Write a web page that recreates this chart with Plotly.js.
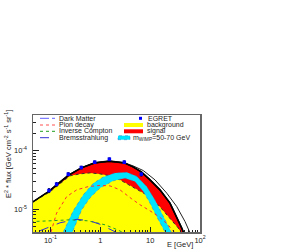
<!DOCTYPE html>
<html><head><meta charset="utf-8">
<script src="https://cdn.plot.ly/plotly-3.0.1.min.js"></script>
<style>html,body{margin:0;padding:0;background:#fff}#chart{width:288px;height:249px}</style>
</head><body><div id="chart"></div>
<script>
// ---- data (E in GeV, E^2*flux in GeV cm^-2 s^-1 sr^-1) ----
const egretE    = [0.0935, 0.133, 0.228, 0.416, 0.773, 1.52, 3.03, 6.64];
const egretFlux = [2.08e-5, 2.67e-5, 3.96e-5, 5.14e-5, 6.35e-5, 7.15e-5, 6.35e-5, 3.96e-5];
const egretErr  = [1.6e-6, 1.8e-6, 2.4e-6, 2.8e-6, 3.2e-6, 3.6e-6, 3.4e-6, 2.8e-6];

const totalE    = [0.04, 0.0447, 0.0935, 0.133, 0.228, 0.416, 0.773, 1.52, 3.03, 4.53, 6.64, 9.93, 15.7, 25.0, 34.1, 43.0, 47.8];
const totalFlux = [1.25e-5, 1.33e-5, 2.02e-5, 2.60e-5, 3.78e-5, 5.08e-5, 6.18e-5, 6.61e-5, 6.18e-5, 5.28e-5, 4.34e-5, 3.17e-5, 2.14e-5, 1.27e-5, 7.50e-6, 4.75e-6, 3.79e-6];

const total70E    = [0.04, 0.0447, 0.0935, 0.133, 0.228, 0.416, 0.773, 1.52, 3.03, 4.53, 7.28, 12.5, 21.5, 34.1, 50.0, 63.0];
const total70Flux = [1.25e-5, 1.33e-5, 2.02e-5, 2.60e-5, 3.78e-5, 5.08e-5, 6.18e-5, 6.61e-5, 6.18e-5, 5.50e-5, 4.57e-5, 3.17e-5, 1.88e-5, 1.11e-5, 6.15e-6, 3.94e-6];

const bgE    = [0.04, 0.0447, 0.098, 0.156, 0.247, 0.392, 0.621, 0.986, 1.57, 2.48, 3.94, 6.22, 9.93, 15.7, 25.0, 36.2, 43.6];
const bgFlux = [1.25e-5, 1.33e-5, 1.98e-5, 2.71e-5, 3.71e-5, 4.01e-5, 4.17e-5, 4.01e-5, 3.71e-5, 3.17e-5, 2.55e-5, 2.10e-5, 1.63e-5, 1.10e-5, 7.11e-6, 4.81e-6, 3.79e-6];

const pionE    = [0.1026, 0.133, 0.212, 0.337, 0.574, 0.986, 1.57, 2.48, 4.27, 6.25, 9.93, 15.7, 22.8, 31.5];
const pionFlux = [4.07e-6, 8.57e-6, 1.64e-5, 2.14e-5, 2.43e-5, 2.55e-5, 2.50e-5, 2.14e-5, 1.50e-5, 1.19e-5, 9.38e-6, 7.26e-6, 5.41e-6, 3.94e-6];

const icE    = [0.04, 0.0447, 0.098, 0.247, 0.566, 1.24, 1.97, 2.69, 3.16];
const icFlux = [6.1e-6, 6.15e-6, 6.32e-6, 6.58e-6, 6.32e-6, 5.41e-6, 4.62e-6, 4.10e-6, 3.6e-6];

const bremE    = [0.0617, 0.098, 0.156, 0.341, 0.621, 0.986, 1.57, 2.07, 2.5];
const bremFlux = [4.27e-6, 5.0e-6, 5.85e-6, 6.71e-6, 6.32e-6, 5.51e-6, 4.62e-6, 4.03e-6, 3.5e-6];

// DM band: upper envelope (left->right) and lower envelope (left->right)
const dmUpE    = [0.17, 0.181, 0.287, 0.456, 0.724, 1.15, 1.97, 3.39, 5.37, 8.53, 12.5, 18.4, 27.0, 29.0];
const dmUpFlux = [3.3e-6, 4.06e-6, 9.38e-6, 1.76e-5, 2.76e-5, 3.56e-5, 4.17e-5, 4.26e-5, 3.64e-5, 2.43e-5, 1.44e-5, 7.48e-6, 4.06e-6, 3.5e-6];
const dmLoE    = [0.25, 0.267, 0.424, 0.621, 0.986, 1.82, 3.13, 4.97, 7.29, 9.93, 13.5, 19.9, 21.0];
const dmLoFlux = [3.3e-6, 4.06e-6, 9.75e-6, 1.56e-5, 2.29e-5, 3.05e-5, 3.39e-5, 2.96e-5, 2.00e-5, 1.27e-5, 7.48e-6, 4.06e-6, 3.5e-6];

const xTickVals = [0.1, 1, 10, 100];
const xTickText = ['10<sup>-1</sup>', '1', '10', '10<sup>2</sup>'];
const yTickVals = [1e-5, 1e-4];
const yTickText = ['10<sup>-5</sup>', '10<sup>-4</sup>'];

// ---- build ----
function minorLog(lo, hi) {
  const v = [];
  for (let k = lo; k <= hi; k++) for (let m = 2; m <= 9; m++) v.push(m * Math.pow(10, k));
  return v;
}
const bandE = dmUpE.concat(dmLoE.slice().reverse());
const bandF = dmUpFlux.concat(dmLoFlux.slice().reverse());

const traces = [
  {x: totalE, y: totalFlux, mode: 'lines', fill: 'tozeroy', fillcolor: '#ff0000',
   line: {color: '#000', width: 1.6}, hoverinfo: 'skip'},
  {x: bgE, y: bgFlux, mode: 'lines', fill: 'tozeroy', fillcolor: '#ffff00',
   line: {color: '#333', width: 1, dash: 'dot'}, hoverinfo: 'skip'},
  {x: bandE, y: bandF, mode: 'lines', fill: 'toself', fillcolor: '#00e5ff',
   line: {color: '#3070c0', width: 0.5, dash: 'dot'}, hoverinfo: 'skip'},
  {x: pionE, y: pionFlux, mode: 'lines', line: {color: '#ff3030', width: 1, dash: 'dot'}},
  {x: icE, y: icFlux, mode: 'lines', line: {color: '#20a020', width: 1, dash: 'dot'}},
  {x: bremE, y: bremFlux, mode: 'lines', line: {color: '#3030d0', width: 1, dash: 'dash'}},
  {x: total70E, y: total70Flux, mode: 'lines', line: {color: '#222', width: 1}},
  {x: totalE, y: totalFlux, mode: 'lines', line: {color: '#000', width: 1.4}},
  {x: egretE, y: egretFlux, mode: 'markers',
   marker: {color: '#0000ff', size: 3.5, symbol: 'square'},
   error_y: {type: 'data', array: egretErr, color: '#000040', thickness: 1, width: 1}}
];

const fnt = {family: 'Liberation Sans, Arial, sans-serif', size: 7, color: '#222'};
const X0 = 33, X1 = 200, Y0 = 115, Y1 = 232;
const px = p => (p - X0) / (X1 - X0);
const py = p => (Y1 - p) / (Y1 - Y0);

const rows = [118.3, 125, 131.3, 137.7];
const leftLabels = ['Dark Matter', 'Pion decay', 'Inverse Compton', 'Bremsstrahlung'];
const leftStyles = [
  {color: '#6060ff', dash: 'dashdot'}, {color: '#ff5050', dash: 'dot'},
  {color: '#20a020', dash: 'dot'}, {color: '#3030d0', dash: 'dash'}];

const shapes = [], annotations = [];
leftLabels.forEach((t, i) => {
  shapes.push({type: 'line', xref: 'paper', yref: 'paper', x0: px(40), x1: px(55),
    y0: py(rows[i]), y1: py(rows[i]), line: {color: leftStyles[i].color, width: 1, dash: leftStyles[i].dash}});
  annotations.push({xref: 'paper', yref: 'paper', x: px(57), y: py(rows[i]), text: t,
    xanchor: 'left', yanchor: 'middle', showarrow: false, font: fnt});
});
// right column
shapes.push({type: 'rect', xref: 'paper', yref: 'paper', x0: px(139), x1: px(142),
  y0: py(rows[0] + 1.5), y1: py(rows[0] - 1.5), fillcolor: '#0000ff', line: {width: 0}});
shapes.push({type: 'rect', xref: 'paper', yref: 'paper', x0: px(124), x1: px(143),
  y0: py(rows[1] + 2), y1: py(rows[1] - 2), fillcolor: '#ffff00', line: {width: 0}});
shapes.push({type: 'rect', xref: 'paper', yref: 'paper', x0: px(124), x1: px(143),
  y0: py(rows[2] + 2), y1: py(rows[2] - 2), fillcolor: '#ff0000', line: {width: 0}});
shapes.push({type: 'rect', xref: 'paper', yref: 'paper', x0: px(118), x1: px(130),
  y0: py(rows[3] + 2), y1: py(rows[3] - 2), fillcolor: '#00e5ff', line: {color: '#3070c0', width: 0.5, dash: 'dot'}});
[['EGRET', 145.5], ['background', 145], ['signal', 145], ['m<sub>WIMP</sub>=50-70 GeV', 131]].forEach((a, i) => {
  annotations.push({xref: 'paper', yref: 'paper', x: px(a[1]), y: py(rows[i]), text: a[0],
    xanchor: 'left', yanchor: 'middle', showarrow: false, font: fnt});
});
// axis titles
annotations.push({xref: 'paper', yref: 'paper', x: px(8), y: py(154), textangle: -90,
  text: 'E<sup>2</sup> * flux [GeV cm<sup>-2</sup> s<sup>-1</sup> sr<sup>-1</sup>]',
  showarrow: false, xanchor: 'center', yanchor: 'middle', font: {family: fnt.family, size: 7.5, color: '#222'}});
annotations.push({xref: 'paper', yref: 'paper', x: px(194), y: py(244), text: 'E [GeV]',
  showarrow: false, xanchor: 'right', yanchor: 'middle', borderpad: 0, font: {family: fnt.family, size: 7.5, color: '#222'}});

const layout = {
  width: 288, height: 249,
  margin: {l: 33, r: 88, t: 115, b: 17},
  paper_bgcolor: '#fff', plot_bgcolor: '#fff',
  showlegend: false,
  font: fnt,
  xaxis: {type: 'log', range: [Math.log10(0.0447), 2], tickmode: 'array', tickvals: xTickVals, ticktext: xTickText,
    ticks: 'inside', ticklen: 5, tickcolor: '#222', showgrid: false, zeroline: false,
    showline: true, linecolor: '#666', linewidth: 1.5, mirror: true,
    tickfont: {family: fnt.family, size: 7.5, color: '#222'},
    minor: {tickvals: minorLog(-2, 1), ticks: 'inside', ticklen: 2.5, tickcolor: '#222'}},
  yaxis: {type: 'log', range: [Math.log10(4.07e-6), Math.log10(4.07e-4)], tickmode: 'array', tickvals: yTickVals, ticktext: yTickText,
    ticks: 'inside', ticklen: 6, tickcolor: '#222', showgrid: false, zeroline: false,
    showline: true, linecolor: '#666', linewidth: 1.5, mirror: true, ticklabelstandoff: 3,
    tickfont: {family: fnt.family, size: 7.5, color: '#222'},
    minor: {tickvals: minorLog(-6, -4), ticks: 'inside', ticklen: 3, tickcolor: '#222'}},
  shapes: shapes, annotations: annotations
};
Plotly.newPlot('chart', traces, layout, {staticPlot: true, displayModeBar: false});
</script></body></html>
